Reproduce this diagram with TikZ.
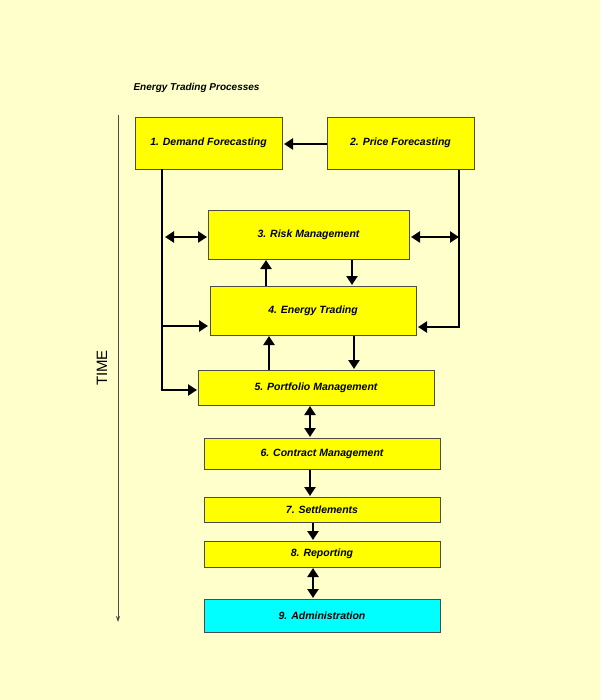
\documentclass[tikz,border=0pt]{standalone}
\usepackage{fontspec}
\setmainfont{Liberation Sans}
\usetikzlibrary{arrows.meta}
\definecolor{bg}{HTML}{FFFFCC}
\definecolor{boxy}{HTML}{FFFF00}
\definecolor{boxc}{HTML}{00FFFF}
\begin{document}
\begin{tikzpicture}[x=1pt,y=-1pt,
  box/.style={draw=black!70,fill=boxy,line width=0.8pt,font=\fontsize{10.5}{12}\selectfont\bfseries\itshape},
  arr/.style={line width=2.6pt,-{Triangle[length=9pt,width=11pt]}},
  darr/.style={line width=2.6pt,{Triangle[length=9pt,width=11pt]}-{Triangle[length=9pt,width=11pt]}},
  ln/.style={line width=2.6pt}]
\fill[bg] (0,0) rectangle (600,700);
\useasboundingbox (0,0) rectangle (600,700);
\node[anchor=west,font=\fontsize{10}{12}\selectfont\bfseries\itshape] (title) at (130,88) {Energy Trading Processes};
\coordinate (t0) at (118,115); \coordinate (t1) at (118,622);
\draw[line width=0.8pt,black!70,-{Stealth[length=6pt,width=4pt]}] (t0) -- (t1);
\node[rotate=90,font=\fontsize{15}{17}\selectfont] (time) at (102,368) {TIME};
\def\bx#1#2#3#4#5#6{\path[box] (#2,#3) rectangle (#4,#5) node[midway] (#1) {#6};}
\bx{n1}{135}{117}{282}{169}{1. Demand Forecasting}
\bx{n2}{327}{117}{474}{169}{2. Price Forecasting}
\bx{n3}{208}{210}{409}{259}{3. Risk Management}
\bx{n4}{210}{286}{416}{335}{4. Energy Trading}
\bx{n5}{198}{370}{434}{405}{5. Portfolio Management}
\bx{n6}{204}{438}{440}{469}{6. Contract Management}
\bx{n7}{204}{497}{440}{522}{7. Settlements}
\bx{n8}{204}{541}{440}{567}{8. Reporting}
\path[box,fill=boxc] (204,599) rectangle (440,632) node[midway] (n9) {9. Administration};
% 2 -> 1
\draw[arr] (327,144) -- (284,144);
% left bus
\coordinate (l0) at (162,169); \coordinate (l1) at (162,390);
\draw[ln] (l0) -- (l1);
\draw[arr] (160.7,390) -- (197,390);
\draw[arr] (162,326) -- (208,326);
\draw[darr] (165,237) -- (207,237);
% right bus
\coordinate (r0) at (459,170); \coordinate (r1) at (459,327);
\draw[ln] (r0) -- (r1);
\draw[arr] (460.3,327) -- (418,327);
\draw[darr] (411,237) -- (459,237);
% 3 <-> 4
\draw[arr] (266,286) -- (266,260);
\draw[arr] (352,260) -- (352,285);
% 4 <-> 5
\draw[arr] (269,370) -- (269,336);
\draw[arr] (354,336) -- (354,369);
% lower chain
\draw[darr] (310,406) -- (310,437);
\draw[arr] (310,470) -- (310,496);
\draw[arr] (313,523) -- (313,540);
\draw[darr] (313,568) -- (313,598);
\end{tikzpicture}
\end{document}
